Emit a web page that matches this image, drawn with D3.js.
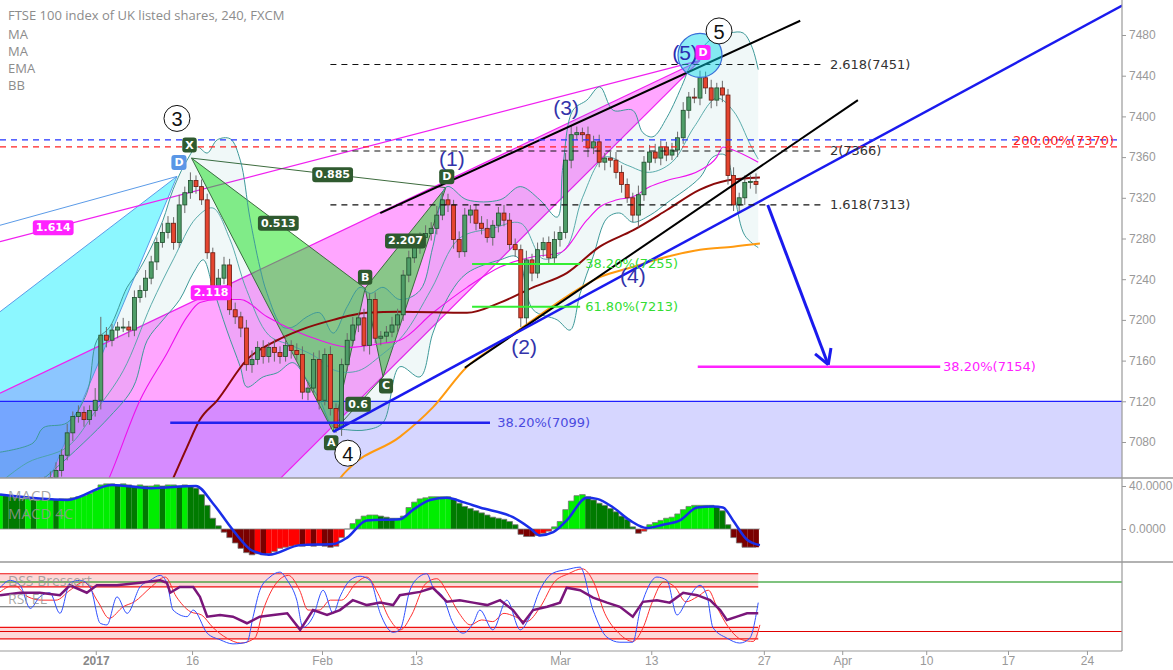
<!DOCTYPE html>
<html><head><meta charset="utf-8">
<script src="https://cdn.jsdelivr.net/npm/d3@7"></script>
<style>body{margin:0;background:#fff;}svg{display:block;font-family:"Liberation Sans",Arial,sans-serif;}</style>
</head><body><svg id="c" width="1173" height="670"></svg>
<script>
// ---------- DATA (bar index = 4h bar number, prices in index points) ----------
const closes = [7023,7025,7028,7031,7028,7033,7035,7038,7041,7045,
 7052,7067,7089,7105,7109,7102,7111,7121,7185,7180,
 7190,7193,7193,7190,7222,7229,7241,7257,7276,7286,
 7295,7276,7313,7325,7337,7331,7318,7266,7229,7241,
 7254,7210,7203,7192,7156,7161,7173,7164,7173,7168,
 7164,7175,7170,7166,7129,7133,7161,7121,7166,7113,
 7094,7156,7180,7195,7202,7175,7220,7182,7184,7188,
 7195,7205,7244,7261,7271,7281,7285,7290,7303,7318,
 7313,7279,7267,7303,7308,7295,7290,7281,7293,7305,
 7298,7274,7269,7202,7259,7246,7269,7276,7261,7279,
 7286,7357,7382,7384,7382,7369,7375,7355,7359,7357,
 7345,7333,7320,7303,7323,7355,7365,7359,7370,7362,
 7367,7379,7406,7419,7418,7438,7428,7416,7428,7421,
 7342,7313,7320,7335,7336,7333];
const hiExt = [5,4,6,5,4,6,5,7,5,6,8,6,9,5,7,6,5,12,18,8,6,5,9,6,7,5,8,6,5,9,
 7,6,10,6,8,5,7,6,5,9,8,6,7,5,8,9,6,7,5,8,6,9,5,7,8,6,7,9,6,8,
 5,6,7,8,5,9,6,7,5,6,8,6,5,7,6,5,8,6,9,7,6,5,8,7,5,6,7,9,5,6,
 8,7,6,5,9,6,7,5,6,8,6,7,9,6,5,8,6,7,5,6,8,7,6,5,9,6,7,8,6,5,
 7,6,8,5,9,7,6,8,5,7,6,8,5,7,6,8];
const loExt = [6,5,4,7,5,6,4,5,6,5,7,6,5,8,6,7,5,6,9,7,6,8,5,7,6,5,7,6,8,5,
 6,7,5,8,6,7,5,6,8,7,6,5,7,9,6,8,5,7,6,9,7,5,8,6,7,8,6,9,5,7,
 5,8,6,5,7,6,9,5,7,6,5,8,6,7,5,6,8,7,6,5,7,9,6,5,8,7,6,5,8,7,
 6,5,7,9,6,8,5,7,6,5,7,6,8,5,7,9,6,5,8,7,6,8,5,7,12,6,8,5,7,6,
 5,7,6,8,5,7,6,8,6,7,9,6,8,7,6,9];

// moving averages & bands: [bar index, price]
const smaRed = [[30.9,7044],[33.4,7075],[35.7,7102],[38.8,7121],[44.1,7161],[49.5,7180],[53.6,7190],[59.5,7200],[65.5,7207],[71.4,7208],[83.4,7207],[89.3,7217],[95.2,7232],[101.2,7246],[107.1,7272],[113,7288],[119.1,7308],[125,7328],[129.8,7337],[135.7,7340]];
const emaOrange = [[58.5,7020],[60.7,7044],[62.5,7055],[71.4,7085],[77.3,7114],[83.4,7154],[89.3,7177],[95.2,7200],[101.2,7223],[107.1,7242],[113,7252],[119.1,7262],[125,7269],[130.9,7272],[135.7,7275]];
const maMagenta = [[17.5,7020],[19.6,7046],[25,7121],[29.8,7167],[33.4,7203],[35.7,7217],[38.8,7220],[42.9,7220],[47.7,7203],[52.3,7190],[57.1,7180],[62.5,7173],[68.4,7177],[71.4,7180],[77.3,7207],[83.4,7232],[89.3,7252],[95.2,7262],[100,7266],[104.8,7298],[107.1,7311],[110.2,7318],[113,7321],[116.1,7331],[119.1,7337],[125,7347],[128,7360],[129.1,7370],[130.9,7367],[135.4,7355]];
const bbUpper = [[0,7070],[5.9,7079],[7.7,7094],[12,7099],[15.5,7128],[17.3,7180],[19.6,7193],[22.7,7232],[24.5,7246],[26.8,7269],[29.1,7298],[30.9,7328],[33.4,7357],[35.2,7370],[37,7364],[38.8,7377],[41.1,7378],[42.9,7357],[44.6,7301],[46.4,7252],[47.7,7226],[50.5,7193],[52.3,7193],[54.8,7203],[57.1,7207],[59.5,7187],[62,7213],[64.3,7232],[66.1,7226],[68.4,7232],[71.4,7220],[75,7229],[77.3,7272],[79.8,7331],[83.4,7318],[89.3,7318],[92.9,7331],[96.4,7318],[99.5,7301],[100.5,7350],[102.3,7406],[104.8,7416],[107.1,7429],[109.5,7406],[113,7406],[114.8,7384],[116.6,7380],[119.1,7399],[122,7433],[123.2,7449],[126.8,7475],[130.4,7482],[132.7,7482],[134.3,7468],[135.4,7446]];
const bbLower = [[0,7010],[9.5,7052],[19.6,7105],[23.8,7134],[26.3,7180],[29.1,7200],[32.1,7220],[34.5,7246],[36.3,7259],[38,7232],[40.5,7190],[42.9,7154],[44.1,7134],[47,7144],[49.5,7148],[52.3,7158],[54.8,7141],[57.1,7121],[59.5,7095],[62,7092],[65.5,7092],[68.4,7099],[71.4,7154],[75,7144],[77.3,7187],[80.4,7226],[83.4,7246],[89.3,7259],[92.3,7262],[95.2,7210],[99.5,7200],[101.8,7190],[103.6,7226],[105.9,7262],[108.4,7300],[110.7,7305],[113,7296],[116.1,7303],[119.1,7315],[125,7340],[127.3,7360],[129.5,7362],[131.3,7318],[133,7283],[135.4,7271]];
const bbMid = [[0,7040],[5,7060],[12,7075],[17,7110],[22,7150],[27,7215],[31,7260],[35,7300],[38,7310],[41,7280],[44,7230],[48,7185],[52,7175],[56,7165],[60,7150],[64,7150],[68,7165],[72,7185],[77,7230],[82,7280],[88,7290],[93,7295],[97,7260],[101,7270],[104,7320],[108,7360],[112,7352],[116,7345],[120,7355],[124,7390],[128,7418],[131,7405],[134,7372],[135.4,7358]];

// MACD histogram (one per bar) and MACD line [bar index, value]
const macdHist = [32,31,30,29,28,28,27,27,27,28,27,28,28,29,30,31,33,36,41,42,
 42,41,42,41,40,41,40,40,41,40,41,41,40,41,40,38,32,22,10,3,
 -3,-8,-13,-18,-22,-24,-23,-24,-23,-21,-18,-17,-16,-15,-16,-15,-16,-15,-16,-17,
 -16,-8,0,5,9,12,13,13,12,11,10,10,12,20,25,28,29,30,30,30,
 30,28,24,21,19,17,15,13,11,10,9,7,4,-5,-7,-7,-6,-4,-2,2,
 7,18,26,31,32,30,27,24,22,19,16,12,9,2,-4,-2,4,6,8,10,
 11,14,18,21,22,22,22,22,21,17,4,-8,-13,-17,-17,-17];
const macdLine = [[0,32],[12,27],[20,41],[27,38],[35,40],[38,24],[41.6,-1],[45,-20],[48,-24],[53.6,-15],[59.5,-14],[62,-8],[65.5,8],[71.4,9],[73.8,18],[76.8,27],[79.8,29],[82.7,25],[85.7,20],[91.6,11],[94.6,1],[96.4,-6],[98.8,-3],[101.2,8],[104.8,29],[106.6,28],[109.5,20],[112.5,8],[115.5,1],[118.4,4],[121.4,8],[124.5,20],[127.3,21],[129.1,20],[130.9,8],[133.4,-10],[135.7,-15]];

// DSS Bressert (blue, red) and RSI EL (purple): [bar index, value]
const dssBlue = [[0,73],[1.8,82],[3.6,76],[5.4,48],[7.1,62],[8.9,67],[10.7,42],[12.5,79],[14.3,82],[16.1,74],[17.9,30],[19.1,28],[20.9,62],[22.7,42],[25,74],[26.8,82],[28.6,88],[29.8,79],[30.9,46],[33.4,38],[34.5,46],[37,18],[39.3,10],[41.6,5],[44.1,7],[45.2,38],[46.4,70],[48.2,86],[50,92],[51.3,82],[53,58],[54.1,25],[55.9,38],[57.7,70],[59.5,42],[60.7,62],[62.5,82],[64.3,87],[66.1,82],[67.9,42],[70.2,19],[71.4,22],[73.2,70],[75,87],[76.2,90],[77.3,74],[79.1,62],[80.9,30],[82.7,18],[84.5,30],[85.7,46],[88,22],[90.5,58],[92.9,22],[94.6,38],[96.4,70],[98.8,91],[101.2,95],[103.6,98],[105.9,46],[108.4,13],[110.7,7],[113,7],[114.3,46],[115.5,70],[117.3,86],[119.1,82],[120.9,40],[122.7,58],[125,76],[126.3,62],[127.3,25],[129.8,12],[132.1,6],[133.9,12],[135.4,55]];
const dssRed = [[0,68],[2.5,76],[5,62],[7.5,58],[10,58],[12.5,70],[15,80],[17.5,56],[19.5,36],[22,50],[24,56],[27,74],[29.5,86],[31.5,62],[34,44],[36,40],[38,25],[40.5,12],[43,6],[45.5,12],[47,46],[49.5,80],[51.5,88],[53.5,70],[55,46],[57,46],[59,58],[61,58],[63.5,78],[65.5,86],[67.5,66],[69.5,36],[71.5,22],[73.5,40],[76,78],[78,84],[80,66],[82,42],[84,28],[86,34],[88,32],[90,42],[92,38],[94,32],[96.5,50],[99,80],[101.5,90],[104,96],[106,80],[108,42],[110.5,18],[113,8],[114.8,24],[116.5,56],[118.5,80],[120.5,74],[122.5,56],[124.5,62],[126.5,70],[128,50],[130,26],[132.5,10],[134.5,8],[135.7,28]];
const rsiEl = [[0,64],[3.6,67],[7.1,67],[10.7,64],[12.5,76],[15.5,67],[17.3,76],[20.9,76],[25,79],[28.6,82],[29.8,79],[30.4,67],[32.1,74],[34.5,74],[35.7,62],[37,38],[39.3,40],[41.6,38],[44.1,30],[46.4,38],[48.8,40],[51.3,42],[53.6,22],[55.9,46],[58.4,40],[60.7,46],[63,58],[65.5,52],[67.9,55],[70.2,52],[71.4,64],[75,68],[77.3,73],[79.8,56],[82.1,58],[84.5,55],[87,52],[89.3,58],[91.6,46],[93.4,30],[95.2,46],[97.7,50],[100,55],[101.2,73],[103.6,70],[105.9,61],[108.4,55],[110.7,50],[113,38],[114.8,56],[117.3,58],[119.6,55],[122,67],[124.5,64],[126.8,58],[128.6,46],[129.8,34],[131.6,38],[133.4,42],[135.4,42]];
const dssBandLevels = [[74,90],[11,25]];

// axis ticks
const priceTicks = [7080,7120,7160,7200,7240,7280,7320,7360,7400,7440,7480];
const macdTicks = [0,40];
const dssTicks = [0,40,80];
const timeTickPos = [17.1,34.3,57.5,74.3,100,116.3,136.4,150.4,165.4,180.0,194.1];
const timeTickLabels = ["2017","16","Feb","13","Mar","13","27","Apr","10","17","24"];

// drawing anchor points [bar index, price]
const pX=[34.2,7359], pCD=[31.6,7341], pA=[59.5,7090], pB=[65.2,7231], pC=[68.4,7144], pD=[79.6,7330], p5D=[125,7455];
const fibDashed = [[7451,"2.618(7451)"],[7366,"2(7366)"],[7313,"1.618(7313)"]];
const fibGreen = [[7255,"38.20%(7255)"],[7213,"61.80%(7213)"]];
const waveLabels = [["(1)",80.7,7359],["(2)",93.6,7174],["(3)",101.1,7409],["(4)",113,7244]];
const circled = [["3",31.6,7398],["4",62.1,7069],["5",128.4,7484]];

// ---------- SCALES ----------
const AX=1122, MB=478, DB=562, BB=651;
const svg=d3.select("#c");
const x=d3.scaleLinear().domain([0,200.36]).range([0,AX]);
const yP=d3.scaleLinear().domain([7080,7480]).range([442,35]);
const yM=d3.scaleLinear().domain([0,40]).range([529,486]);
const yD=d3.scaleLinear().domain([0,80]).range([648,582]);
const pt=d=>[x(d[0]),yP(d[1])];

const defs=svg.append("defs");
[["cm",0,0,AX,MB],["cmacd",0,MB,AX,DB-MB],["cdss",0,DB,AX,BB-DB],["caxis",AX,0,60,BB]].forEach(c=>
  defs.append("clipPath").attr("id",c[0]).append("rect").attr("x",c[1]).attr("y",c[2]).attr("width",c[3]).attr("height",c[4]));

const g=svg.append("g").attr("clip-path","url(#cm)");
const polyPath=pts=>"M"+pts.map(p=>pt(p).join(",")).join("L")+"Z";

// pink wedge, cyan pattern
g.append("path").attr("d",polyPath([[0,7128],p5D,[42,7000],[0,7000]])).attr("fill","rgba(255,0,255,0.35)");
g.append("path").attr("d",polyPath([[0,7208],pCD,[5.5,7000],[0,7000]])).attr("fill","rgba(0,238,255,0.45)");
// lavender zone below 7120
g.append("rect").attr("x",0).attr("y",yP(7120)).attr("width",AX).attr("height",MB-yP(7120)).attr("fill","rgba(0,0,255,0.16)");
g.append("line").attr("x1",0).attr("x2",AX).attr("y1",yP(7120)).attr("y2",yP(7120)).attr("stroke","#1f1fff").attr("stroke-width",1.2);

const seg=(a,b,col,w,dash)=>{const l=g.append("line").attr("x1",pt(a)[0]).attr("y1",pt(a)[1]).attr("x2",pt(b)[0]).attr("y2",pt(b)[1]).attr("stroke",col).attr("stroke-width",w);if(dash)l.attr("stroke-dasharray",dash);return l;};
seg([0,7293],pCD,"#5b9be8",1);
seg([0,7208],pCD,"#5b9be8",1);
seg(pCD,[5.5,7000],"#5b9be8",1);
seg([0,7277],p5D,"#f020f0",1.2);
seg([0,7128],p5D,"#f020f0",1.2);
seg([42,7000],p5D,"#f020f0",1.2);

// green harmonic pattern
g.append("path").attr("d",polyPath([pX,pA,pB])).attr("fill","rgba(20,230,20,0.5)").attr("stroke","#3d6b3d").attr("stroke-width",1);
g.append("path").attr("d",polyPath([pB,pC,pD])).attr("fill","rgba(20,230,20,0.5)").attr("stroke","#3d6b3d").attr("stroke-width",1);
seg(pX,pD,"#3d6b3d",1);
seg(pA,pC,"#3d6b3d",1);

// Bollinger bands
const cr=d3.line().curve(d3.curveCatmullRom.alpha(0.5));
const bandPath=cr(bbUpper.map(pt))+"L"+cr(bbLower.slice().reverse().map(pt)).slice(1)+"Z";
g.append("path").attr("d",bandPath).attr("fill","rgba(0,130,130,0.06)");
[bbUpper,bbLower].forEach(s=>g.append("path").attr("d",cr(s.map(pt))).attr("fill","none").attr("stroke","#3f9a9a").attr("stroke-width",1));
g.append("path").attr("d",cr(bbMid.map(pt))).attr("fill","none").attr("stroke","#4aa3a3").attr("stroke-width",0.9);

// moving averages
const lp=d3.line().x(d=>x(d[0])).y(d=>yP(d[1])).curve(d3.curveMonotoneX);
g.append("path").attr("d",lp(maMagenta)).attr("fill","none").attr("stroke","#ee10ee").attr("stroke-width",1.1);
g.append("path").attr("d",lp(emaOrange)).attr("fill","none").attr("stroke","#ff9a10").attr("stroke-width",2);
g.append("path").attr("d",lp(smaRed)).attr("fill","none").attr("stroke","#8b0a0a").attr("stroke-width",2);

// candles
const bars=closes.map((c,i)=>{const o=i?closes[i-1]:c;return {i,o,c,h:Math.max(o,c)+(hiExt[i]??6),l:Math.min(o,c)-(loExt[i]??6)};});
const cg=g.append("g");
bars.forEach(b=>{
  const up=b.c>=b.o, cx=x(b.i);
  cg.append("line").attr("x1",cx).attr("x2",cx).attr("y1",yP(b.h)).attr("y2",yP(b.l)).attr("stroke","#6a6a6a").attr("stroke-width",1);
  const top=yP(Math.max(b.o,b.c)), bot=yP(Math.min(b.o,b.c));
  cg.append("rect").attr("x",cx-2).attr("y",top).attr("width",4).attr("height",Math.max(1,bot-top))
    .attr("fill",up?"#4f9d68":"#e5452f").attr("stroke",up?"#1f4d2c":"#6a1a10").attr("stroke-width",0.8);
});

// channel lines
seg([67.9,7305],[142.9,7494],"#000",2);
seg([83,7153],[153.2,7416],"#000",2);
seg(pA,[200.4,7509],"#1a1aee",2.5);

// fib / level lines
seg([30.4,7099],[87.5,7099],"#2222ee",2.5);
fibGreen.forEach(f=>seg([84.3,f[0]],[103.6,f[0]],"#33ee33",2));
fibDashed.forEach(f=>seg([59,f[0]],[146.8,f[0]],"#111",1.2,"6,5"));
seg([0,7377],[200.4,7377],"#2233ff",1.2,"6,5");
seg([0,7370],[200.4,7370],"#ff2222",1.2,"6,5");
seg([124.6,7154],[167.9,7154],"#ff22ff",2.5);

const txt=(s,xx,yy,col,fs,fam,anchor)=>g.append("text").attr("x",xx).attr("y",yy).attr("dominant-baseline","central")
  .attr("text-anchor",anchor||"start").attr("fill",col).attr("font-size",fs).attr("font-family",fam||"DejaVu Sans").text(s);
fibDashed.forEach(f=>txt(f[1],x(148.2),yP(f[0]),"#333",13));
fibGreen.forEach(f=>txt(f[1],x(104.5),yP(f[0]),"#33dd33",13));
txt("38.20%(7099)",x(88.8),yP(7099),"#4a4ae0",13);
txt("38.20%(7154)",x(168.4),yP(7154),"#ff22ff",13);
txt("200.00%(7370)",x(180.9),yP(7377)+1,"#ff2020",13);

// arrow
(function(){
  const a=pt([137.1,7313]), b=pt([147.9,7156]);
  g.append("line").attr("x1",a[0]).attr("y1",a[1]).attr("x2",b[0]).attr("y2",b[1]).attr("stroke","#1a1aee").attr("stroke-width",3);
  const dx=a[0]-b[0], dy=a[1]-b[1], L=Math.hypot(dx,dy), ux=dx/L, uy=dy/L;
  [Math.PI/6,-Math.PI/6].forEach(t=>{
    const rx=ux*Math.cos(t)-uy*Math.sin(t), ry=ux*Math.sin(t)+uy*Math.cos(t);
    g.append("line").attr("x1",b[0]).attr("y1",b[1]).attr("x2",b[0]+rx*17).attr("y2",b[1]+ry*17).attr("stroke","#1a1aee").attr("stroke-width",3);
  });
})();

// tag boxes
function tag(s,cx,cy,bg,fs){
  const gg=g.append("g");
  const t=gg.append("text").attr("x",cx).attr("y",cy).attr("text-anchor","middle").attr("dominant-baseline","central")
    .attr("fill","#fff").attr("font-size",fs||11).attr("font-weight","bold").attr("font-family","DejaVu Sans").text(s);
  const w=t.node().getComputedTextLength()+6, h=(fs||11)+4;
  gg.insert("rect","text").attr("x",cx-w/2).attr("y",cy-h/2).attr("width",w).attr("height",h).attr("rx",3).attr("fill",bg);
}
const mid=(a,b)=>[(pt(a)[0]+pt(b)[0])/2,(pt(a)[1]+pt(b)[1])/2];
const dg="#2f5a2f";
tag("0.885",...mid(pX,pD).map((v,i)=>v+(i?2:14)),dg);
tag("0.513",...mid(pX,pB),dg);
tag("2.207",...mid(pB,pD).map((v,i)=>v+(i?3:0)),dg);
tag("0.6",...mid(pA,pC),dg);
tag("X",pt(pX)[0]-2,pt(pX)[1]-13,dg);
tag("A",pt(pA)[0]-2,pt(pA)[1]+11,dg);
tag("B",pt(pB)[0],pt(pB)[1]-11,dg);
tag("C",pt(pC)[0]+3,pt(pC)[1]+9,dg);
tag("D",pt(pD)[0]+1,pt(pD)[1]-11,dg);
tag("D",pt(pCD)[0]+2,pt(pCD)[1]-14,"#5a96e6");
tag("1.614",x(9.5),yP(7277)+ (pt(p5D)[1]-yP(7277))*9.5/125,"#ff22ff");
tag("2.118",x(37.7),yP(7128)+(pt(p5D)[1]-yP(7128))*37.7/125,"#ff22ff");

// (5) circle
const c5=pt([125,7460]);
g.append("circle").attr("cx",c5[0]).attr("cy",c5[1]).attr("r",22).attr("fill","rgba(0,215,235,0.45)").attr("stroke","#3a6fd8").attr("stroke-width",1.2);
txt("(5)",c5[0]-15,c5[1]-3,"#2b2bb0",21,"Liberation Sans","middle");
tag("D",pt(p5D)[0]+3,pt(p5D)[1]-8,"#ff22ff");
waveLabels.forEach(w=>txt(w[0],x(w[1]),yP(w[2]),"#3333aa",21,"Liberation Sans","middle"));
circled.forEach(c=>{
  g.append("circle").attr("cx",x(c[1])).attr("cy",yP(c[2])).attr("r",13).attr("fill","#fff").attr("stroke","#111").attr("stroke-width",1);
  txt(c[0],x(c[1]),yP(c[2])+1,"#111",20,"Liberation Sans","middle");
});

// ---------- MACD PANEL ----------
const gm=svg.append("g").attr("clip-path","url(#cmacd)");
macdHist.forEach((v,i)=>{
  const p=i?macdHist[i-1]:v;
  const col=v>=0?(v>=p?"#00ee00":"#007a00"):(v<=p?"#7a0000":"#ff0000");
  gm.append("rect").attr("x",x(i)-2.8).attr("width",5.7).attr("y",Math.min(yM(v),yM(0))).attr("height",Math.abs(yM(v)-yM(0))).attr("fill",col);
});
gm.append("path").attr("d",d3.line().x((d,i)=>x(i)).y(d=>yM(d)).curve(d3.curveStep)(macdHist)).attr("fill","none").attr("stroke","#777").attr("stroke-width",0.8);
gm.append("line").attr("x1",0).attr("x2",x(135.7)).attr("y1",yM(0)).attr("y2",yM(0)).attr("stroke","#888").attr("stroke-width",0.8);
gm.append("path").attr("d",d3.line().x(d=>x(d[0])).y(d=>yM(d[1])).curve(d3.curveMonotoneX)(macdLine)).attr("fill","none").attr("stroke","#1a2ee8").attr("stroke-width",2.5);
gm.append("text").attr("x",8).attr("y",495).attr("dominant-baseline","central").attr("fill","rgba(150,150,150,0.85)").attr("font-size",15).attr("font-family","Open Sans").text("MACD");
gm.append("text").attr("x",8).attr("y",513).attr("dominant-baseline","central").attr("fill","rgba(150,150,150,0.85)").attr("font-size",15).attr("font-family","Open Sans").text("MACD 4C");

// ---------- DSS PANEL ----------
const gd=svg.append("g").attr("clip-path","url(#cdss)");
const endX=x(135.4);
dssBandLevels.forEach(b=>{
  gd.append("rect").attr("x",0).attr("width",endX).attr("y",yD(b[1])).attr("height",yD(b[0])-yD(b[1])).attr("fill","#fdd8d8");
  b.forEach(v=>gd.append("line").attr("x1",0).attr("x2",endX).attr("y1",yD(v)).attr("y2",yD(v)).attr("stroke","#ee1111").attr("stroke-width",1.2));
});
gd.append("line").attr("x1",0).attr("x2",endX).attr("y1",yD(50)).attr("y2",yD(50)).attr("stroke","#666").attr("stroke-width",1);
gd.append("line").attr("x1",0).attr("x2",AX).attr("y1",yD(80)).attr("y2",yD(80)).attr("stroke","#008800").attr("stroke-width",1.2);
gd.append("line").attr("x1",0).attr("x2",AX).attr("y1",yD(20)).attr("y2",yD(20)).attr("stroke","#e00000").attr("stroke-width",1.2);
const ld=d3.line().x(d=>x(d[0])).y(d=>yD(d[1])).curve(d3.curveMonotoneX);
gd.append("path").attr("d",ld(dssRed)).attr("fill","none").attr("stroke","#ff3030").attr("stroke-width",1);
gd.append("path").attr("d",ld(dssBlue)).attr("fill","none").attr("stroke","#3050ff").attr("stroke-width",1);
gd.append("path").attr("d",d3.line().x(d=>x(d[0])).y(d=>yD(d[1]))(rsiEl)).attr("fill","none").attr("stroke","#7a167a").attr("stroke-width",2.5);
gd.append("text").attr("x",8).attr("y",580).attr("dominant-baseline","central").attr("fill","rgba(150,150,150,0.85)").attr("font-size",14).attr("font-family","Open Sans").text("DSS Bressert");
gd.append("text").attr("x",8).attr("y",598).attr("dominant-baseline","central").attr("fill","rgba(150,150,150,0.85)").attr("font-size",14).attr("font-family","Open Sans").text("RSI EL");

// ---------- AXES & FRAME ----------
const styleAxis=(sel)=>{sel.selectAll("path").attr("stroke","#999");sel.selectAll("line").attr("stroke","#999");
  sel.selectAll("text").attr("fill","#999").attr("font-size",12).attr("font-family","Liberation Sans");};
const ay=svg.append("g").attr("transform",`translate(${AX},0)`).call(d3.axisRight(yP).tickValues(priceTicks).tickSize(4).tickFormat(d3.format("d"))).call(styleAxis);
ay.select(".domain").remove();
const am=svg.append("g").attr("transform",`translate(${AX},0)`).call(d3.axisRight(yM).tickValues(macdTicks).tickSize(4).tickFormat(d3.format(".4f"))).call(styleAxis);
am.select(".domain").remove();
const ad=svg.append("g").attr("transform",`translate(${AX},0)`).attr("clip-path","url(#caxis)").call(d3.axisRight(yD).tickValues(dssTicks).tickSize(4).tickFormat(d3.format(".4f"))).call(styleAxis);
ad.select(".domain").remove();
svg.append("line").attr("x1",AX).attr("x2",AX).attr("y1",0).attr("y2",BB).attr("stroke","#999").attr("stroke-width",1.2);
[MB,DB].forEach(yy=>svg.append("line").attr("x1",0).attr("x2",1173).attr("y1",yy).attr("y2",yy).attr("stroke","#999").attr("stroke-width",1.5));
const axx=svg.append("g").attr("transform",`translate(0,${BB})`).call(d3.axisBottom(x).tickValues(timeTickPos).tickSize(4).tickFormat((d,i)=>timeTickLabels[i])).call(styleAxis);
axx.select(".domain").attr("d",`M0,0H${AX}`).attr("stroke-width",1.2);
axx.selectAll("text").attr("dy","0.6em").attr("font-weight",(d,i)=>i===0?"bold":"normal").attr("fill",(d,i)=>i===0?"#888":"#999");

// legend
const leg=["FTSE 100 index of UK listed shares, 240, FXCM","MA","MA","EMA","BB"];
const legY=[15,34,51,68,85];
leg.forEach((s,i)=>svg.append("text").attr("x",8).attr("y",legY[i]).attr("dominant-baseline","central").attr("fill","#8c8c8c").attr("font-size",13).attr("font-family","Open Sans").text(s));
</script>
</body></html>
